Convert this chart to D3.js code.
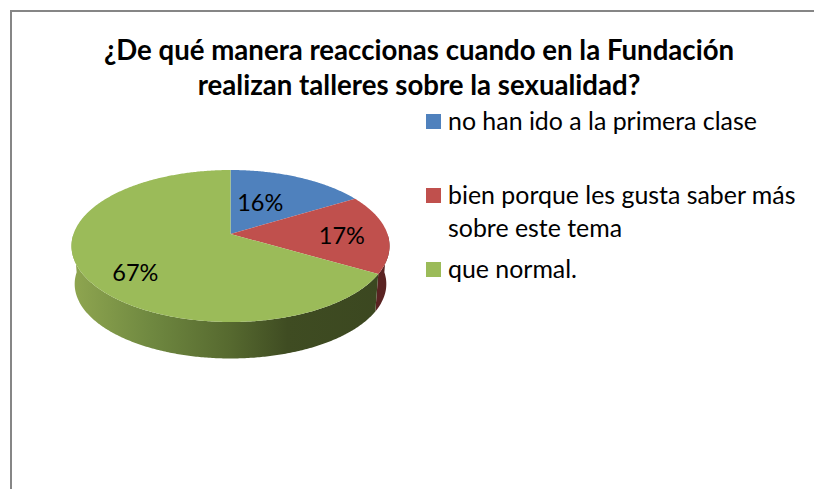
<!DOCTYPE html>
<html lang="es"><head><meta charset="utf-8">
<script src="https://cdn.jsdelivr.net/npm/d3@7/dist/d3.min.js"></script>
<style>html,body{margin:0;padding:0;background:#fff}svg{display:block}text{font-family:Lato,"Open Sans",sans-serif;fill:#000}</style>
</head><body><script>
const titleLines = ["¿De qué manera reaccionas cuando en la Fundación", "realizan talleres sobre la sexualidad?"];
const categories = ["no han ido a la primera clase", "bien porque les gusta saber más|sobre este tema", "que normal."];
const values = [16.4, 16.9, 66.7];
const colors = ["#4F81BD", "#C0504D", "#9BBB59"];

const W = 814, H = 489;
const svg = d3.select("body").append("svg").attr("width", W).attr("height", H);
const defs = svg.append("defs");
const grad = defs.append("linearGradient").attr("id", "greenSide").attr("gradientUnits", "userSpaceOnUse")
  .attr("x1", 72).attr("x2", 389).attr("y1", 0).attr("y2", 0);
[[0, "#8FA650"], [.25, "#6F8840"], [.5, "#56692F"], [.68, "#3F4C22"], [1, "#3B4720"]]
  .forEach(([o, c]) => grad.append("stop").attr("offset", o).attr("stop-color", c));

// frame
svg.append("path").attr("d", `M11 ${H}V11H${W}`).attr("fill", "none").attr("stroke", "#868686").attr("stroke-width", 2);

// perspective projection of the pie disc
const cx = 230.5, apexY = 234, Rx = 157, Ry = 74.1, k = -0.158;
const project = (a, f = 1) => {
  const u = f * Math.sin(a), v = -f * Math.cos(a), w = 1 + k * v;
  return [cx + Rx * u / w, apexY + Ry * v / w];
};
const lower = ([x, y]) => [cx + .98 * (x - cx), 284 + .98 * (y - 246)];

const arcs = d3.pie().sort(null)(values);
const step = a0 => d3.range(a0[0], a0[1], .01).concat(a0[1]);
const line = d3.line();

// side wall
const vis = [Math.PI / 2, Math.PI * 1.5];
const sideFill = ["none", "#5A2322", "url(#greenSide)"];
arcs.forEach((d, i) => {
  const s = Math.max(d.startAngle, vis[0]), e = Math.min(d.endAngle, vis[1]);
  if (e <= s) return;
  const top = step([s, e]).map(a => project(a));
  const bot = top.map(lower).reverse();
  svg.append("path").attr("d", line(top.concat(bot)) + "Z").attr("fill", sideFill[i]);
});

// top face
arcs.forEach((d, i) => {
  const pts = step([d.startAngle, d.endAngle]).map(a => project(a));
  svg.append("path").attr("d", line([[cx, apexY], ...pts]) + "Z").attr("fill", colors[i]);
});

// data labels
const labelPlace = [{f: .42, dy: -6}, {f: .71, dy: 1}, {f: .65, dy: 13}];
const labelNudge = [-1, 0, -2];
arcs.forEach((d, i) => {
  const [x, y] = project((d.startAngle + d.endAngle) / 2, labelPlace[i].f);
  svg.append("text").attr("x", x + labelNudge[i]).attr("y", y + labelPlace[i].dy + 9).attr("text-anchor", "middle")
    .attr("font-size", 23.5).text(d3.format(".0f")(values[i]) + "%");
});

// title
const titleBase = [60, 95];
titleLines.forEach((t, i) => svg.append("text").attr("x", 419).attr("y", titleBase[i]).attr("text-anchor", "middle")
  .attr("font-size", 27.6).attr("font-weight", 700).text(t));

// legend
const legendY = [114, 188, 262];
categories.forEach((c, i) => {
  svg.append("rect").attr("x", 426).attr("y", legendY[i]).attr("width", 15).attr("height", 15).attr("fill", colors[i]);
  c.split("|").forEach((l, j) => svg.append("text").attr("x", 448).attr("y", legendY[i] + 16 + j * 32.5)
    .attr("font-size", 24.9).text(l));
});
</script></body></html>
